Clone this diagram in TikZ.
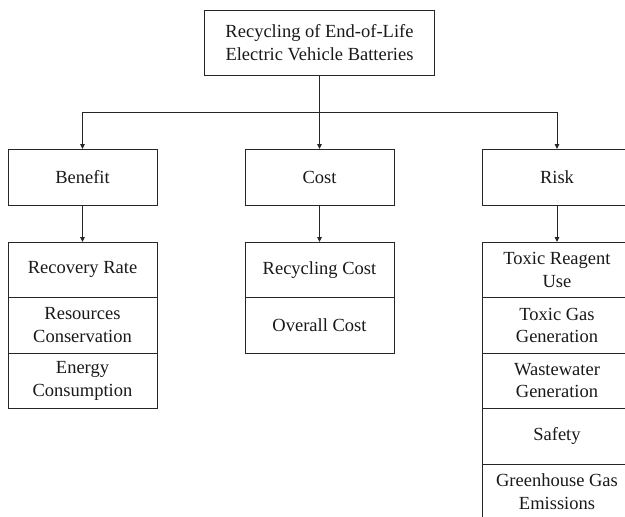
\documentclass[tikz,border=0pt]{standalone}
\usepackage{fontspec}
\setmainfont{Liberation Serif}
\usetikzlibrary{arrows.meta}

\begin{document}
\begin{tikzpicture}[x=1pt,y=-1pt,font=\rmfamily\fontsize{18.5}{22.5}\selectfont]
\useasboundingbox (0,0) rectangle (625,517);
\begin{scope}[every node/.style={rectangle,draw=black!85,line width=1pt,align=center,
              outer sep=0pt,text=black!90,minimum width=149,minimum height=56}]
    \node (T) at (319.5,42.5) [minimum width=230,minimum height=65] {Recycling of End-of-Life\\Electric Vehicle Batteries};
    \node (B) at (82.5,177) {Benefit};
    \node (C) at (319.5,177) {Cost};
    \node (R) at (557,177) {Risk};
\end{scope}
\begin{scope}[every node/.style={rectangle,draw=black!85,line width=1pt,align=center,
              outer sep=0pt,text=black!90,minimum width=149,minimum height=55.5}]
    \node (B1) at (82.5,269.75) {Recovery Rate};
    \node (B2) at (82.5,325.25) {Resources\\Conservation};
    \node (B3) at (82.5,380.75) {Energy\\Consumption};
    \node (C1) at (319.5,269.75) {Recycling Cost};
    \node (C2) at (319.5,325.25) {Overall Cost};
    \node (R1) at (557,269.75) {Toxic Reagent\\Use};
    \node (R2) at (557,325.25) {Toxic Gas\\Generation};
    \node (R3) at (557,380.75) {Wastewater\\Generation};
    \node (R4) at (557,436.25) {Safety};
    \node (R5) at (557,491.75) {Greenhouse Gas\\Emissions};
\end{scope}
\coordinate (J) at (319.5,112);
\begin{scope}[>={Triangle[length=5pt,width=4.5pt]},
              every edge/.style={draw=black!85,line width=1pt}]
    \path [->] (T) edge (C);
    \draw [->,black!85,line width=1pt] (J) -| (B);
    \draw [->,black!85,line width=1pt] (J) -| (R);
    \path [->] (B) edge (B1);
    \path [->] (C) edge (C1);
    \path [->] (R) edge (R1);
\end{scope}
\end{tikzpicture}
\end{document}
